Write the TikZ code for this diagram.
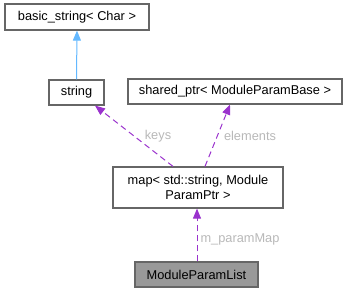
\documentclass[tikz,border=0pt]{standalone}
\usepackage{fontspec}
\setmainfont{Liberation Sans}
\usetikzlibrary{arrows.meta}
\definecolor{boxline}{HTML}{666666}
\definecolor{boxfill}{HTML}{999999}
\definecolor{deppurple}{HTML}{9A32CD}
\definecolor{inhblue}{HTML}{63B8FF}
\definecolor{lblgray}{HTML}{B8B8B8}
\begin{document}
\begin{tikzpicture}[x=1pt,y=-1pt,
  cls/.style={draw=boxline,line width=1.2pt,fill=white,inner sep=0pt,align=center,
    font=\fontsize{12.8}{14.5}\selectfont,text=black},
  dep/.style={draw=deppurple,line width=1pt,dash pattern=on 6pt off 4pt,
    -{Triangle[length=10pt,width=8pt,fill=deppurple]}},
  inh/.style={draw=inhblue,line width=1pt,-{Triangle[length=10pt,width=8pt,fill=inhblue]}},
  lbl/.style={text=lblgray,font=\fontsize{12.8}{14.5}\selectfont,inner sep=0pt}]
\useasboundingbox (0,0) rectangle (351,301);
\node[cls,minimum width=144pt,minimum height=26pt] (basic) at (77,17) {basic\_string< Char >};
\node[cls,minimum width=55pt,minimum height=25pt] (string) at (76.5,92.5) {string};
\node[cls,minimum width=214pt,minimum height=25pt] (shared) at (235,91.5) {shared\_ptr< ModuleParamBase >};
\node[cls,minimum width=170pt,minimum height=41pt] (map) at (198,187.5) {map< std::string, Module\\ParamPtr >};
\node[cls,fill=boxfill,minimum width=123pt,minimum height=25pt] (list) at (196.5,274.5) {ModuleParamList};
\draw[inh] (string.north) -- (basic.south);
\draw[dep] ([xshift=-25pt]map.north) -- ([xshift=18.5pt]string.south);
\draw[dep] ([xshift=7pt]map.north) -- ([xshift=-5pt]shared.south);
\draw[dep] (list.north -| 197,0) -- (map.south -| 197,0);
\node[lbl] (lkeys) at (158,136) {keys};
\node[lbl] (lelem) at (250,136) {elements};
\node[lbl] (lmap) at (240,239) {m\_paramMap};
\end{tikzpicture}
\end{document}
